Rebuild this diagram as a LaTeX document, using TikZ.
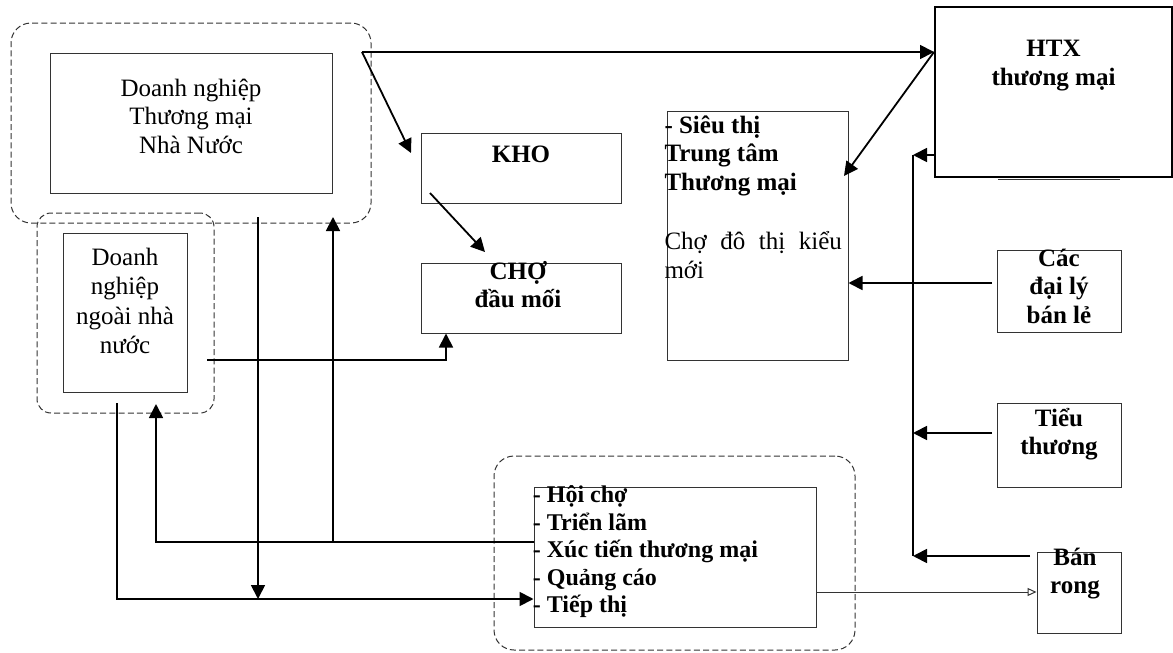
\documentclass[tikz,border=0pt]{standalone}
\usepackage{fontspec}
\setmainfont{Liberation Serif}
\usetikzlibrary{positioning, arrows.meta, calc}
\definecolor{boxgray}{HTML}{333333}

\begin{document}
\begin{tikzpicture}[x=0.5pt, y=-0.5pt, font=\fontsize{12.5}{14.2}\selectfont,
  box/.style={draw=boxgray, line width=0.5pt, inner sep=0pt},
  grp/.style={draw=boxgray, line width=0.5pt, dash pattern=on 3pt off 1.6pt,
              rounded corners=10pt, inner sep=0pt},
  txt/.style={inner sep=0pt, align=center},
  btxt/.style={txt, font=\fontsize{12.5}{14.2}\selectfont\bfseries},
  flow/.style={line width=0.9pt, -{Triangle[length=7pt, width=7pt]}},
  feed/.style={line width=0.5pt, boxgray, -{Triangle[open, length=4.5pt, width=4pt]}}]
  \useasboundingbox (0,0) rectangle (1173,653);

  % dashed groups
  \node[grp, minimum width=180pt, minimum height=100pt] (grpnn) at (191,123) {};
  \node[grp, rounded corners=7pt, minimum width=88.5pt, minimum height=100pt] (grpngoai) at (125.5,313) {};
  \node[grp, minimum width=180.5pt, minimum height=97pt] (grpxt) at (674.5,553) {};

  % boxes
  \node[box, minimum width=141pt, minimum height=70pt] (dnnn) at (191,123) {};
  \node[box, minimum width=62pt, minimum height=79.5pt] (ngoai) at (125,312.5) {};
  \node[box, minimum width=100pt, minimum height=35pt] (kho) at (521,168) {};
  \node[box, minimum width=100pt, minimum height=35pt] (cho) at (521,298) {};
  \node[box, minimum width=90.5pt, minimum height=124.5pt] (sieuthi) at (757.5,235.5) {};
  \node[box, draw=black, line width=1pt, minimum width=118.5pt, minimum height=85pt] (htx) at (1053.5,92) {};
  \draw[boxgray, line width=0.6pt] (998,179.5) -- (1120,179.5);
  \node[box, minimum width=62pt, minimum height=41pt] (cac) at (1059,291) {};
  \node[box, minimum width=62pt, minimum height=42pt] (tieu) at (1059,445) {};
  \node[box, minimum width=42pt, minimum height=40.5pt] (banrong) at (1079,592.5) {};
  \node[box, minimum width=141pt, minimum height=70pt] (hoicho) at (675,557) {};

  % texts
  \node[txt, below=13pt of dnnn.north] (dnnnlbl) {Doanh nghiệp\\Thương mại\\Nhà Nước};
  \node[txt, font=\fontsize{12.5}{14.7}\selectfont, below=7.5pt of ngoai.north] (ngoailbl)
    {Doanh\\nghiệp\\ngoài nhà\\nước};
  \node[btxt, below=6.5pt of kho.north] (kholbl) {KHO};
  \node[btxt, below=-0.75pt of cho.north, xshift=-1.5pt] (cholbl) {CHỢ\\đầu mối};
  \node[btxt, align=left, anchor=north west] (sieuthilbl) at ($(sieuthi.north west)+(-2.4,5)$)
    {- Siêu thị\\Trung tâm\\Thương mại\\[15.5pt]{\mdseries\makebox[88.7pt][s]{Chợ đô thị kiểu}}\\{\mdseries mới}};
  \node[btxt, below=17pt of htx.north] (htxlbl) {HTX\\thương mại};
  \node[btxt, below=-0.5pt of cac.north] (caclbl) {Các\\đại lý\\bán lẻ};
  \node[btxt, below=2.5pt of tieu.north] (tieulbl) {Tiểu\\thương};
  \node[btxt, below=-2pt of banrong.north, xshift=-2pt] (banronglbl) {Bán\\rong};
  \node[btxt, font=\fontsize{12}{13.75}\selectfont\bfseries, align=left, anchor=north west] (hoicholbl)
    at ($(hoicho.north west)+(-1,-1)$)
    {- Hội chợ\\- Triển lãm\\- Xúc tiến thương mại\\- Quảng cáo\\- Tiếp thị};

  % connectors, top
  \coordinate (fork) at (362,52);
  \coordinate (khoin) at (411,153);
  \coordinate (khoout) at (430,193);
  \coordinate (choin) at (485,252);
  \coordinate (sieuin) at (844,176);
  \draw[flow] (fork) -- (fork -| htx.west);
  \draw[flow] (fork) -- (khoin);
  \draw[flow] (khoout) -- (choin);
  \draw[flow] (fork -| htx.west) -- (sieuin);

  % connectors, right
  \coordinate (bustop) at (913,155);
  \coordinate (busbot) at (913,556);
  \coordinate (cacout) at (992,283);
  \coordinate (tieuout) at (992,433);
  \coordinate (banout) at (1030,556);
  \coordinate (hoiout) at (816,592);
  \draw[line width=0.9pt] (bustop) -- (busbot);
  \draw[flow] (bustop -| htx.west) -- (bustop);
  \draw[flow] (cacout) -- (cacout -| sieuthi.east);
  \draw[flow] (tieuout) -- (tieuout -| bustop);
  \draw[flow] (banout) -- (busbot);
  \draw[feed] (hoiout) -- (hoiout -| banrong.west);

  % connectors, left
  \coordinate (ngoaiout) at (207,360);
  \coordinate (ngoaidown) at (117,403);
  \coordinate (ngoaiin) at (156,404);
  \coordinate (nnout) at (258,217);
  \coordinate (nnin) at (333,217);
  \coordinate (lowrow) at (117,599);
  \coordinate (hoiback) at ([yshift=7.5pt]hoicho.west);
  \draw[flow] (ngoaiout) -| ([xshift=-37.5pt]cho.south);
  \draw[flow] (nnout) -- (nnout |- lowrow);
  \draw[flow] (ngoaidown) -- (lowrow) -- (lowrow -| hoicho.west);
  \draw[flow] (hoiback) -| (ngoaiin);
  \draw[flow] (nnin |- hoiback) -- (nnin);
\end{tikzpicture}
\end{document}
